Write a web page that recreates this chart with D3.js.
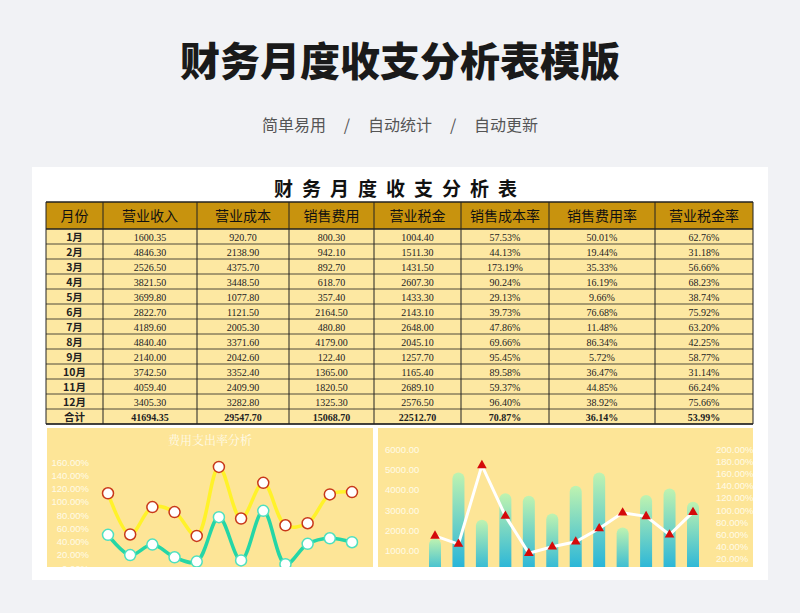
<!DOCTYPE html>
<html><head><meta charset="utf-8">
<script src="https://cdn.jsdelivr.net/npm/d3@7"></script>
<style>body{margin:0;background:#f1f2f5;}svg{display:block;font-family:"Noto Sans CJK SC",sans-serif;}</style>
</head><body><svg id="c" width="800" height="613"></svg>
<script>
const months=["1月","2月","3月","4月","5月","6月","7月","8月","9月","10月","11月","12月"];
const headers=["月份","营业收入","营业成本","销售费用","营业税金","销售成本率","销售费用率","营业税金率"];
const revenue=[1600.35,4846.30,2526.50,3821.50,3699.80,2822.70,4189.60,4840.40,2140.00,3742.50,4059.40,3405.30];
const cost=[920.70,2138.90,4375.70,3448.50,1077.80,1121.50,2005.30,3371.60,2042.60,3352.40,2409.90,3282.80];
const salesExp=[800.30,942.10,892.70,618.70,357.40,2164.50,480.80,4179.00,122.40,1365.00,1820.50,1325.30];
const tax=[1004.40,1511.30,1431.50,2607.30,1433.30,2143.10,2648.00,2045.10,1257.70,1165.40,2689.10,2576.50];
const costRate=[57.53,44.13,173.19,90.24,29.13,39.73,47.86,69.66,95.45,89.58,59.37,96.40];
const expRate=[50.01,19.44,35.33,16.19,9.66,76.68,11.48,86.34,5.72,36.47,44.85,38.92];
const taxRate=[62.76,31.18,56.66,68.23,38.74,75.92,63.20,42.25,58.77,31.14,66.24,75.66];
const totals=["合计","41694.35","29547.70","15068.70","22512.70","70.87%","36.14%","53.99%"];
const leftTicks=[0,20,40,60,80,100,120,140,160];
const barTicks=[1000,2000,3000,4000,5000,6000];
const rateTicks=[20,40,60,80,100,120,140,160,180,200];

const svg=d3.select("#c");
svg.append("text").attr("x",400).attr("y",76).attr("text-anchor","middle").attr("font-size",40).attr("font-weight",900).attr("fill","#1a1a1a").text("财务月度收支分析表模版");
svg.append("text").attr("x",400).attr("y",131).attr("text-anchor","middle").attr("font-size",16).attr("fill","#555").attr("xml:space","preserve").text("简单易用     /     自动统计     /     自动更新");
svg.append("rect").attr("x",32).attr("y",167).attr("width",736).attr("height",413).attr("fill","#fff");
svg.append("text").attr("x",400).attr("y",196).attr("text-anchor","middle").attr("font-size",19).attr("font-weight",700).attr("fill","#111").attr("letter-spacing","9px").text("财务月度收支分析表");

const colX=[46,103,197,289,374,461,549,655,753];
const fmt=d3.format(".2f");
const rows=months.map((m,i)=>[m,fmt(revenue[i]),fmt(cost[i]),fmt(salesExp[i]),fmt(tax[i]),fmt(costRate[i])+"%",fmt(expRate[i])+"%",fmt(taxRate[i])+"%"]);
const y0=202,hH=27,rH=(424-229)/13;
const tb=svg.append("g");
tb.append("rect").attr("x",46).attr("y",y0).attr("width",707).attr("height",hH).attr("fill","#c8930e");
tb.append("rect").attr("x",46).attr("y",y0+hH).attr("width",707).attr("height",rH*13).attr("fill","#fde8a2");
headers.forEach((h,j)=>tb.append("text").attr("x",(colX[j]+colX[j+1])/2).attr("y",y0+19).attr("text-anchor","middle").attr("font-size",14).attr("fill","#111").text(h));
rows.concat([totals]).forEach((r,i)=>{
  const yy=y0+hH+i*rH;
  r.forEach((v,j)=>tb.append("text").attr("x",(colX[j]+colX[j+1])/2).attr("y",yy+rH-3.5)
    .attr("text-anchor","middle").attr("font-size",j==0?10.5:10).attr("font-weight",(i==12||j==0)?700:400)
    .attr("font-family",j==0?"Noto Sans CJK SC":"Liberation Serif").attr("fill","#222").text(v));
});
for(let i=0;i<=14;i++){const yy=i==0?y0:y0+hH+(i-1)*rH;tb.append("line").attr("x1",46).attr("x2",753).attr("y1",yy).attr("y2",yy).attr("stroke","#222").attr("stroke-width",i<2?1.5:0.8);}
colX.forEach(x=>tb.append("line").attr("x1",x).attr("x2",x).attr("y1",y0).attr("y2",424).attr("stroke","#222").attr("stroke-width",1));
tb.append("line").attr("x1",46).attr("x2",753).attr("y1",424).attr("y2",424).attr("stroke","#222").attr("stroke-width",1.5);

const L=svg.append("g");
const defs=svg.append("defs");
defs.append("clipPath").attr("id","cl").append("rect").attr("x",47).attr("y",428).attr("width",326).attr("height",139);
defs.append("clipPath").attr("id","cr").append("rect").attr("x",378).attr("y",428).attr("width",375).attr("height",139);
L.attr("clip-path","url(#cl)");
L.append("rect").attr("x",47).attr("y",428).attr("width",326).attr("height",139).attr("fill","#fde597");
L.append("text").attr("x",210).attr("y",445).attr("text-anchor","middle").attr("font-size",12).attr("fill","#fffbe8").attr("font-family","Noto Serif CJK SC,serif").text("费用支出率分析");
const xl=d3.scalePoint().domain(months).range([108,352]);
const yl=d3.scaleLinear().domain([0,160]).range([568,462]);
L.append("g").attr("transform","translate(92,0)").call(d3.axisLeft(yl).tickValues(leftTicks).tickFormat(d=>d.toFixed(2)+"%").tickSize(0))
 .call(g=>{g.select(".domain").remove();g.selectAll("text").attr("fill","#fffbe8").attr("font-size",9.5).attr("font-family","Liberation Sans");});
const stacked=d3.stack().keys(["e","t"])(months.map((m,i)=>({m,e:expRate[i],t:taxRate[i]})));
const lineL=d3.line().x(d=>xl(d.data.m)).y(d=>yl(d[1])).curve(d3.curveCatmullRom);
[[stacked[1],"#fff22a","#c8381a"],[stacked[0],"#25d6a6","#4ee0c0"]].forEach(([s,c,mk])=>{
  L.append("path").datum(s).attr("d",lineL).attr("fill","none").attr("stroke",c).attr("stroke-width",3.5);
  L.selectAll(null).data(s).join("circle").attr("cx",d=>xl(d.data.m)).attr("cy",d=>yl(d[1])).attr("r",5.5).attr("fill","#fff").attr("stroke",mk).attr("stroke-width",1.5);
});

const R=svg.append("g").attr("clip-path","url(#cr)");
R.append("rect").attr("x",378).attr("y",428).attr("width",375).attr("height",139).attr("fill","#fde597");
const gr=defs.append("linearGradient").attr("id","bg").attr("x1",0).attr("x2",0).attr("y1",0).attr("y2",1);
gr.append("stop").attr("offset","0").attr("stop-color","#bff3b0");gr.append("stop").attr("offset","1").attr("stop-color","#12acdf");
const xr=d3.scalePoint().domain(months).range([435,693]);
const yb=d3.scaleLinear().domain([0,6000]).range([571,449]);
const yr=d3.scaleLinear().domain([0,200]).range([571,449]);
R.append("g").attr("transform","translate(382,0)").call(d3.axisRight(yb).tickValues(barTicks).tickFormat(d=>d.toFixed(2)).tickSize(0))
 .call(g=>{g.select(".domain").remove();g.selectAll("text").attr("fill","#fffbe8").attr("font-size",9.5).attr("font-family","Liberation Sans");});
R.append("g").attr("transform","translate(713,0)").call(d3.axisRight(yr).tickValues(rateTicks).tickFormat(d=>d.toFixed(2)+"%").tickSize(0))
 .call(g=>{g.select(".domain").remove();g.selectAll("text").attr("fill","#fffbe8").attr("font-size",9.5).attr("font-family","Liberation Sans");});
R.selectAll(null).data(revenue).join("rect").attr("x",(d,i)=>xr(months[i])-6).attr("width",12)
 .attr("y",d=>yb(d)).attr("height",d=>yb(0)-yb(d)+10).attr("rx",6).attr("fill","url(#bg)");
R.append("path").datum(costRate).attr("d",d3.line().x((d,i)=>xr(months[i])).y(d=>yr(d))).attr("fill","none").attr("stroke","#fff").attr("stroke-width",3);
R.selectAll(null).data(costRate).join("path").attr("d",d3.symbol(d3.symbolTriangle,40)).attr("transform",(d,i)=>`translate(${xr(months[i])},${yr(d)})`).attr("fill","#d40a0a");
</script></body></html>
